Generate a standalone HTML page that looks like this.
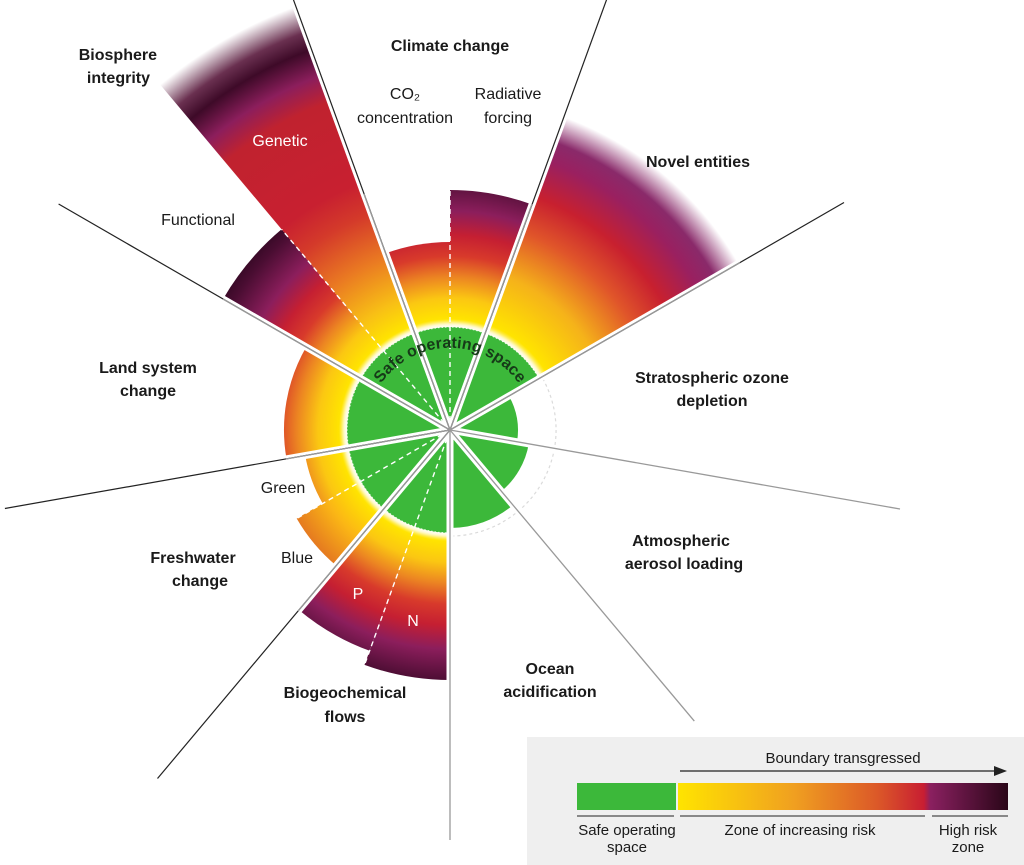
<!DOCTYPE html>
<html><head><meta charset="utf-8"><style>
html,body{margin:0;padding:0;background:#fff;}
svg{display:block;}
text{font-family:"Liberation Sans",sans-serif;}
.b{font-weight:bold;font-size:16px;fill:#1a1a1a;}
.n{font-size:16px;fill:#1a1a1a;}
.w{font-size:16px;fill:#fff;}
.l{font-size:15px;fill:#1a1a1a;}
</style></head><body>
<svg width="1024" height="865" viewBox="0 0 1024 865" xmlns="http://www.w3.org/2000/svg">
<defs>
<radialGradient id="gm" gradientUnits="userSpaceOnUse" cx="450" cy="430" r="300">
<stop offset="0.343" stop-color="#fff6b0"/>
<stop offset="0.37" stop-color="#ffe400"/>
<stop offset="0.44" stop-color="#fbc712"/>
<stop offset="0.51" stop-color="#ec8522"/>
<stop offset="0.58" stop-color="#d83a2b"/>
<stop offset="0.65" stop-color="#c51f32"/>
<stop offset="0.73" stop-color="#8c1e5c"/>
<stop offset="0.84" stop-color="#4a0d32"/>
<stop offset="0.9" stop-color="#2e0720"/>
</radialGradient>
<radialGradient id="gb" gradientUnits="userSpaceOnUse" cx="450" cy="430" r="300">
<stop offset="0.343" stop-color="#fff6b0"/>
<stop offset="0.37" stop-color="#ffe400"/>
<stop offset="0.47" stop-color="#fbb715"/>
<stop offset="0.59" stop-color="#e57a20"/>
</radialGradient>
<radialGradient id="gn" gradientUnits="userSpaceOnUse" cx="450" cy="430" r="340">
<stop offset="0.303" stop-color="#fff6b0"/>
<stop offset="0.33" stop-color="#ffe400"/>
<stop offset="0.48" stop-color="#f5b21a"/>
<stop offset="0.62" stop-color="#e0552a"/>
<stop offset="0.73" stop-color="#c8202f"/>
<stop offset="0.84" stop-color="#9a2060"/>
<stop offset="0.9" stop-color="#8a2a6a"/>
<stop offset="0.98" stop-color="#ffffff"/>
</radialGradient>
<radialGradient id="gg" gradientUnits="userSpaceOnUse" cx="450" cy="430" r="460">
<stop offset="0.224" stop-color="#fff6b0"/>
<stop offset="0.24" stop-color="#ffe400"/>
<stop offset="0.3" stop-color="#f8c015"/>
<stop offset="0.4" stop-color="#ea7a22"/>
<stop offset="0.5" stop-color="#d43a2a"/>
<stop offset="0.57" stop-color="#c82030"/>
<stop offset="0.76" stop-color="#c0222f"/>
<stop offset="0.82" stop-color="#8c1e5c"/>
<stop offset="0.88" stop-color="#3e0a28"/>
<stop offset="0.92" stop-color="#6a3050"/>
<stop offset="0.98" stop-color="#ffffff"/>
</radialGradient>
<linearGradient id="gl" x1="0" x2="1" y1="0" y2="0">
<stop offset="0" stop-color="#ffe400"/>
<stop offset="0.35" stop-color="#f0a020"/>
<stop offset="0.6" stop-color="#dc5a28"/>
<stop offset="0.745" stop-color="#c81e32"/>
<stop offset="0.765" stop-color="#8a2060"/>
<stop offset="1" stop-color="#2a0618"/>
</linearGradient>
<filter id="blur" x="-20%" y="-20%" width="140%" height="140%"><feGaussianBlur stdDeviation="2"/></filter>
<path id="arcT" d="M376,392 A84 84 0 0 1 524,392" />
</defs>

<circle cx="450" cy="430" r="106" fill="none" stroke="#aaa" stroke-width="1.2" stroke-dasharray="3 3"/>

<path d="M450,430 L385.7,253.3 A188 188 0 0 1 450,242 Z" fill="url(#gm)"/>
<path d="M450,430 L450,190 A240 240 0 0 1 532.1,204.5 Z" fill="url(#gm)"/>
<path d="M450,430 L564.6,115.2 A335 335 0 0 1 740.1,262.5 Z" fill="url(#gn)"/>
<path d="M450,430 L450,680 A250 250 0 0 1 364.5,664.9 Z" fill="url(#gm)"/>
<path d="M450,430 L369.6,650.8 A235 235 0 0 1 298.9,610 Z" fill="url(#gm)"/>
<path d="M450,430 L336.2,565.6 A177 177 0 0 1 296.7,518.5 Z" fill="url(#gb)"/>
<path d="M450,430 L322.7,503.5 A147 147 0 0 1 305.2,455.5 Z" fill="url(#gm)"/>
<path d="M450,430 L286.5,458.8 A166 166 0 0 1 306.2,347 Z" fill="url(#gm)"/>
<path d="M450,430 L223.1,299 A262 262 0 0 1 281.6,229.3 Z" fill="url(#gm)"/>
<path d="M450,430 L154.3,77.6 A460 460 0 0 1 292.7,-2.3 Z" fill="url(#gg)"/>

<circle cx="450" cy="430" r="104" fill="none" stroke="#fff" stroke-width="5" filter="url(#blur)"/>
<path d="M450,430 L450,533 A103 103 0 1 1 539.2,378.5 Z" fill="#3cb83a"/>
<path d="M450,430 L508.9,396 A68 68 0 0 1 517,441.8 Z" fill="#3cb83a"/>
<path d="M450,430 L528.8,443.9 A80 80 0 0 1 501.4,491.3 Z" fill="#3cb83a"/>
<path d="M450,430 L513,505.1 A98 98 0 0 1 450,528 Z" fill="#3cb83a"/>
<path d="M450,533 A103 103 0 1 1 539.2,378.5" fill="none" stroke="#fff" stroke-width="1.2" stroke-dasharray="1.5 2" opacity="0.9"/>

<g stroke="#fff" stroke-width="1.4" stroke-dasharray="5 4" fill="none">
<line x1="450" y1="430" x2="450" y2="190"/>
<line x1="450" y1="430" x2="364.5" y2="664.9"/>
<line x1="450" y1="430" x2="296.7" y2="518.5"/>
<line x1="450" y1="430" x2="281.6" y2="229.3"/>
</g>

<g stroke="#fff" stroke-width="7" stroke-linecap="butt">
<line x1="450" y1="430" x2="292.7" y2="-2.3"/>
<line x1="450" y1="430" x2="607.3" y2="-2.3"/>
<line x1="450" y1="430" x2="844" y2="202.5"/>
<line x1="450" y1="430" x2="900" y2="509"/>
<line x1="450" y1="430" x2="694.3" y2="721.1"/>
<line x1="450" y1="430" x2="450" y2="840"/>
<line x1="450" y1="430" x2="157.5" y2="778.5"/>
<line x1="450" y1="430" x2="4.9" y2="508.5"/>
<line x1="450" y1="430" x2="58.6" y2="204"/>
</g>
<g stroke="#222" stroke-width="1.2">
<line x1="450" y1="430" x2="292.7" y2="-2.3"/>
<line x1="450" y1="430" x2="607.3" y2="-2.3"/>
<line x1="450" y1="430" x2="844" y2="202.5"/>
<line x1="450" y1="430" x2="157.5" y2="778.5"/>
<line x1="450" y1="430" x2="4.9" y2="508.5"/>
<line x1="450" y1="430" x2="58.6" y2="204"/>
</g>
<g stroke="#999" stroke-width="1.3">
<line x1="450" y1="430" x2="900" y2="509"/>
<line x1="450" y1="430" x2="694.3" y2="721.1"/>
<line x1="450" y1="430" x2="450" y2="840"/>
<line x1="450" y1="430" x2="364" y2="194"/>
<line x1="450" y1="430" x2="532" y2="204"/>
<line x1="450" y1="430" x2="740" y2="262.5"/>
<line x1="450" y1="430" x2="298" y2="611"/>
<line x1="450" y1="430" x2="286" y2="459"/>
<line x1="450" y1="430" x2="223" y2="299"/>
</g>

<text font-weight="bold" font-size="16" fill="#163a18"><textPath href="#arcT" startOffset="50%" text-anchor="middle">Safe operating space</textPath></text>

<text class="b" x="157" y="60" text-anchor="end">Biosphere</text>
<text class="b" x="150" y="83" text-anchor="end">integrity</text>
<text class="b" x="450" y="51" text-anchor="middle">Climate change</text>
<text class="n" x="405" y="99" text-anchor="middle">CO₂</text>
<text class="n" x="405" y="123" text-anchor="middle">concentration</text>
<text class="n" x="508" y="99" text-anchor="middle">Radiative</text>
<text class="n" x="508" y="123" text-anchor="middle">forcing</text>
<text class="b" x="698" y="167" text-anchor="middle">Novel entities</text>
<text class="w" x="280" y="146" text-anchor="middle">Genetic</text>
<text class="n" x="198" y="225" text-anchor="middle">Functional</text>
<text class="b" x="712" y="383" text-anchor="middle">Stratospheric ozone</text>
<text class="b" x="712" y="406" text-anchor="middle">depletion</text>
<text class="b" x="148" y="373" text-anchor="middle">Land system</text>
<text class="b" x="148" y="396" text-anchor="middle">change</text>
<text class="n" x="283" y="493" text-anchor="middle">Green</text>
<text class="n" x="297" y="563" text-anchor="middle">Blue</text>
<text class="b" x="193" y="563" text-anchor="middle">Freshwater</text>
<text class="b" x="200" y="586" text-anchor="middle">change</text>
<text class="b" x="681" y="546" text-anchor="middle">Atmospheric</text>
<text class="b" x="684" y="569" text-anchor="middle">aerosol loading</text>
<text class="w" x="358" y="599" text-anchor="middle">P</text>
<text class="w" x="413" y="626" text-anchor="middle">N</text>
<text class="b" x="550" y="674" text-anchor="middle">Ocean</text>
<text class="b" x="550" y="697" text-anchor="middle">acidification</text>
<text class="b" x="345" y="698" text-anchor="middle">Biogeochemical</text>
<text class="b" x="345" y="722" text-anchor="middle">flows</text>

<rect x="527" y="737" width="497" height="128" fill="#efefef"/>
<text class="l" x="843" y="763" text-anchor="middle">Boundary transgressed</text>
<line x1="680" y1="771" x2="996" y2="771" stroke="#222" stroke-width="1.2"/>
<polygon points="994,766 1007,771 994,776" fill="#222"/>
<rect x="577" y="783" width="99" height="27" fill="#3cb83a"/>
<rect x="678" y="783" width="330" height="27" fill="url(#gl)"/>
<g stroke="#222" stroke-width="1">
<line x1="577" y1="816" x2="674" y2="816"/>
<line x1="680" y1="816" x2="925" y2="816"/>
<line x1="932" y1="816" x2="1008" y2="816"/>
</g>
<text class="l" x="627" y="835" text-anchor="middle">Safe operating</text>
<text class="l" x="627" y="852" text-anchor="middle">space</text>
<text class="l" x="800" y="835" text-anchor="middle">Zone of increasing risk</text>
<text class="l" x="968" y="835" text-anchor="middle">High risk</text>
<text class="l" x="968" y="852" text-anchor="middle">zone</text>
</svg>
</body></html>
